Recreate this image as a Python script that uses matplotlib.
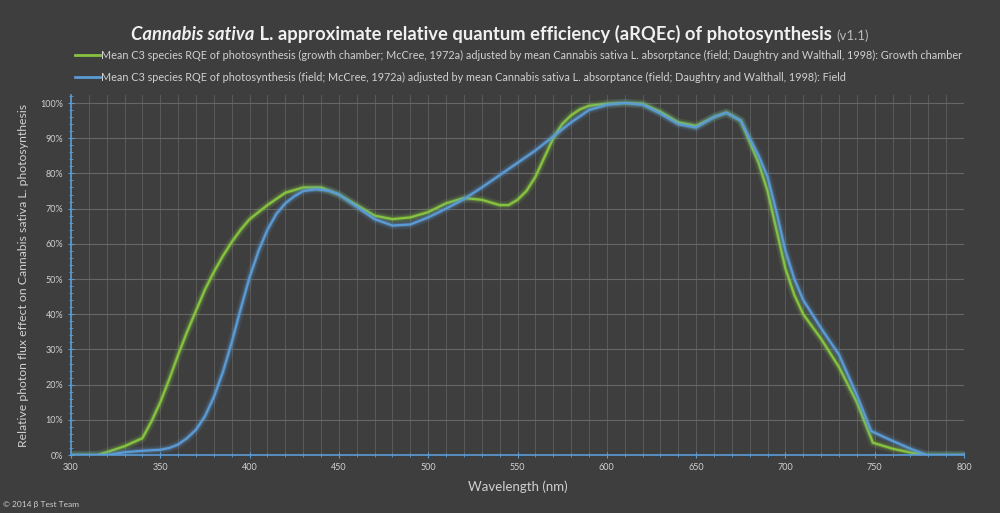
import numpy as np
import matplotlib
matplotlib.use("Agg")
import matplotlib.pyplot as plt
from matplotlib.ticker import MultipleLocator, PercentFormatter

# values (wavelength nm -> % relative effect)
green_nm = [300, 315, 320, 330, 340, 345, 350, 355, 360, 365, 370, 375, 380, 385, 390,
            395, 400, 410, 420, 430, 440, 450, 460, 470, 480, 490, 500, 510, 520, 530,
            540, 545, 550, 555, 560, 565, 570, 575, 580, 585, 590, 600, 610, 620, 630,
            640, 650, 660, 667, 675, 680, 685, 690, 695, 700, 705, 710, 720, 730, 740,
            749, 760, 770, 779, 800]
green_pct = [0, 0, 0.8, 2.5, 4.8, 9.5, 15, 21.5, 28.5, 35, 41, 47, 52, 56.5, 60.5,
             64, 67, 71, 74.5, 76, 76, 74, 71, 68, 67, 67.5, 69, 71.5, 73, 72.5,
             71, 71, 72.5, 75, 79, 84.5, 90, 94, 96.5, 98.2, 99.2, 99.8, 100, 99.8, 97.5,
             94.5, 93.5, 96, 97.3, 95, 89, 83, 75, 64, 53, 45.5, 40, 33, 25, 15,
             3.5, 1.8, 0.7, 0, 0]

blue_nm = [300, 320, 330, 340, 350, 355, 360, 365, 370, 375, 380, 385, 390, 395,
           400, 405, 410, 415, 420, 425, 430, 437, 445, 450, 460, 470, 480, 490, 500,
           510, 520, 530, 540, 550, 560, 570, 580, 590, 600, 610, 620, 630, 640, 650,
           660, 667, 675, 680, 685, 690, 695, 700, 705, 710, 720, 730, 740, 748, 760,
           770, 779, 800]
blue_pct = [0, 0, 0.8, 1.2, 1.5, 2, 3, 4.8, 7.2, 11, 16.5, 23.5, 32, 41.5,
            50.5, 58, 64, 68.5, 71.5, 73.5, 75, 75.5, 75, 74, 70.5, 67, 65.2, 65.5, 67.5,
            70, 72.7, 76, 79.5, 83, 86.5, 90.5, 94.5, 98, 99.5, 100, 99.5, 97, 94, 93,
            96, 97.2, 95, 90, 85, 79, 69, 58, 50, 44, 36, 28.5, 17, 6.8, 4,
            1.8, 0, 0]

green_label = ("Mean C3 species RQE of photosynthesis (growth chamber; McCree, 1972a) adjusted by mean "
               "Cannabis sativa L. absorptance (field; Daughtry and Walthall, 1998): Growth chamber")
blue_label = ("Mean C3 species RQE of photosynthesis (field; McCree, 1972a) adjusted by mean "
              "Cannabis sativa L. absorptance (field; Daughtry and Walthall, 1998): Field")

bg = "#3e3e3e"
txt = "#d0d0d0"
green = "#86c440"
blue = "#5b9bd5"
font = ["Lato", "DejaVu Sans"]

fig = plt.figure(figsize=(10, 5.13), dpi=100, facecolor=bg)
ax = fig.add_axes([0.071, 0.113, 0.893, 0.702])
ax.set_facecolor(bg)

# glow + line
for xs, ys, c in [(green_nm, green_pct, green), (blue_nm, blue_pct, blue)]:
    y = np.array(ys) / 100
    ax.plot(xs, y, color=c, lw=6, alpha=0.15, solid_capstyle="round", solid_joinstyle="round")
    ax.plot(xs, y, color=c, lw=3.2, alpha=0.3, solid_capstyle="round", solid_joinstyle="round")
    ax.plot(xs, y, color=c, lw=1.6, solid_joinstyle="round")

ax.set_xlim(300, 800)
ax.set_ylim(0, 1.023)
ax.set_yticks(np.arange(0, 1.01, 0.1))
ax.yaxis.set_major_formatter(PercentFormatter(1.0, decimals=0))
ax.xaxis.set_major_locator(MultipleLocator(50))
ax.xaxis.set_minor_locator(MultipleLocator(10))
ax.yaxis.set_minor_locator(MultipleLocator(0.02))

ax.grid(which="major", axis="y", color="#666666", lw=0.8)
ax.grid(which="both", axis="x", color="#5a5a5a", lw=0.7)
ax.set_axisbelow(True)

for s in ["top", "right"]:
    ax.spines[s].set_visible(False)
for s in ["left", "bottom"]:
    ax.spines[s].set_color(blue)
    ax.spines[s].set_linewidth(1.2)

ax.tick_params(which="both", colors=blue, labelcolor=txt, labelsize=6.5, direction="inout")
ax.tick_params(which="major", length=4)
ax.tick_params(which="minor", length=2.5)
for lab in ax.get_xticklabels() + ax.get_yticklabels():
    lab.set_family(font)

ax.set_xlabel("Wavelength (nm)", color=txt, fontsize=9.5, family=font, labelpad=6)
ax.set_ylabel("Relative photon flux effect on Cannabis sativa L. photosynthesis",
              color=txt, fontsize=8.8, family=font, labelpad=8)

# title built from pieces: italic species, bold rest, small version tag
fig.canvas.draw()
r = fig.canvas.get_renderer()
pieces = [("Cannabis sativa", dict(style="italic", weight="bold", size=13.2, color="#f0f0f0")),
          (" L. approximate relative quantum efficiency (aRQEc) of photosynthesis ",
           dict(weight="bold", size=13.2, color="#f0f0f0")),
          ("(v1.1)", dict(size=9.5, color="#b8b8b8"))]
widths = []
for s, kw in pieces:
    t = fig.text(0, 0, s, family=font, **kw)
    widths.append(t.get_window_extent(r).width)
    t.remove()
x = (1000 - sum(widths)) / 2
for (s, kw), w in zip(pieces, widths):
    fig.text(x / 1000, 1 - 40 / 513, s, family=font, va="baseline", **kw)
    x += w

# legend rows
for i, (lab, c) in enumerate([(green_label, green), (blue_label, blue)]):
    yy = 1 - (55 + 22 * i) / 513
    fig.add_artist(plt.Line2D([0.075, 0.1], [yy, yy], color=c, lw=2,
                              transform=fig.transFigure))
    fig.text(0.101, yy, lab, color=txt, fontsize=7.8, family=font, va="center")

fig.text(0.003, 0.012, "\u00a9 2014 \u03b2 Test Team", color=txt, fontsize=6, family=font)

fig.savefig("out.png", dpi=100, facecolor=bg)
